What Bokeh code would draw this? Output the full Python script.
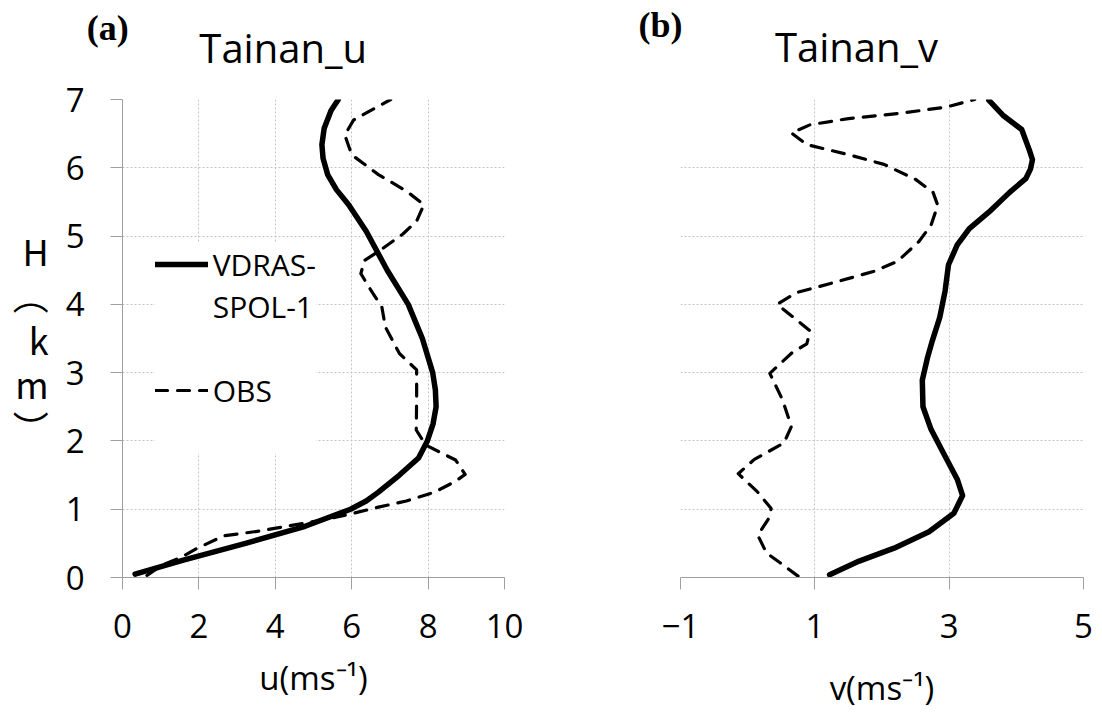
from bokeh.plotting import figure
from bokeh.models import FixedTicker, Label, Legend, LegendItem, ColumnDataSource, Range1d
from bokeh.layouts import row
from bokeh.embed import file_html
from bokeh.resources import INLINE

# ---------------- data ----------------
# Tainan_u : VDRAS-SPOL-1 (height km, u m/s)
z_vdras_u = [0.05, 0.25, 0.5, 0.75, 1.0, 1.12, 1.25, 1.5, 1.75, 2.0, 2.25, 2.5, 2.75, 3.0, 3.5, 4.0, 4.5,
             5.07, 5.46, 5.68, 5.90, 6.14, 6.34, 6.58, 6.84, 7.0]
u_vdras = [0.33, 1.57, 3.22, 4.78, 5.97, 6.38, 6.70, 7.25, 7.75, 7.98, 8.13, 8.21, 8.19, 8.12, 7.85, 7.48, 6.93,
           6.38, 5.92, 5.60, 5.37, 5.25, 5.22, 5.28, 5.46, 5.65]
# Tainan_u : OBS
z_obs_u = [0.03, 0.17, 0.30, 0.42, 0.61, 0.68, 0.85, 0.93, 1.03, 1.12, 1.25, 1.41, 1.51, 1.72, 1.94, 2.16,
           2.6, 3.04, 3.28, 3.67, 3.96, 4.2, 4.45, 4.64, 4.81, 5.03, 5.22, 5.46, 5.66, 5.9, 6.19, 6.48, 6.7, 7.0]
u_obs = [0.64, 1.0, 1.55, 1.93, 2.65, 3.58, 5.32, 5.96, 6.70, 7.43, 8.17, 8.72, 8.97, 8.72, 7.94, 7.69,
         7.70, 7.70, 7.25, 6.88, 6.79, 6.51, 6.24, 6.33, 6.79, 7.34, 7.70, 7.89, 7.43, 6.70, 6.00, 5.82, 6.05, 7.02]
# Tainan_v : VDRAS-SPOL-1
z_vdras_v = [0.04, 0.24, 0.43, 0.67, 0.94, 1.20, 1.44, 1.83, 2.17, 2.50, 2.89, 3.23, 3.47, 3.81, 4.20, 4.58,
             4.87, 5.11, 5.35, 5.64, 5.84, 5.98, 6.12, 6.27, 6.56, 6.77, 6.99]
v_vdras = [1.22, 1.66, 2.18, 2.70, 3.07, 3.20, 3.12, 2.91, 2.73, 2.61, 2.60, 2.68, 2.75, 2.86, 2.94, 2.99,
           3.12, 3.30, 3.59, 3.90, 4.14, 4.21, 4.24, 4.19, 4.08, 3.80, 3.59]
# Tainan_v : OBS
z_obs_v = [0.02, 0.19, 0.36, 0.62, 0.86, 1.01, 1.25, 1.52, 1.73, 1.97, 2.21, 2.60, 2.99, 3.30, 3.42, 3.61,
           3.78, 4.00, 4.17, 4.31, 4.48, 4.63, 4.92, 5.16, 5.45, 5.64, 5.83, 6.05, 6.19, 6.34, 6.51, 6.63,
           6.72, 6.80, 6.89, 7.00]
v_obs = [0.75, 0.52, 0.28, 0.15, 0.31, 0.35, 0.15, -0.14, 0.10, 0.54, 0.65, 0.52, 0.33, 0.67, 0.88, 0.93,
         0.72, 0.44, 0.72, 1.25, 1.87, 2.23, 2.55, 2.73, 2.83, 2.76, 2.50, 2.03, 1.51, 0.88, 0.65, 0.93,
         1.50, 2.29, 2.96, 3.38]

u_ticks = [0, 2, 4, 6, 8, 10]
v_ticks = [-1, 1, 3, 5]
z_ticks = [0, 1, 2, 3, 4, 5, 6, 7]

series_names = ["VDRAS-", "SPOL-1", "OBS"]
panel_titles = ["Tainan_u", "Tainan_v"]
panel_tags = ["(a)", "(b)"]
x_labels = ["u(ms\u207b\u00b9)", "v(ms\u207b\u00b9)"]
y_label = "H\n\ufe35\nk\nm\n\ufe36"

# ---------------- style ----------------
SANS = "Open Sans"
GRID = "#c4c4c4"
AXIS = "#a0a0a0"
DASH = "12 10"


def add_text(p, side, text, x, y, size, font=SANS, style="normal", align="center",
             baseline="alphabetic"):
    p.add_layout(Label(x=x, y=y, x_units="screen", y_units="screen", text=text,
                       text_font=font, text_font_size=size, text_font_style=style,
                       text_align=align, text_baseline=baseline, text_color="black"), side)


def style_fig(p, xticks, hide_y=False):
    p.outline_line_color = None
    p.background_fill_color = "white"
    p.border_fill_color = "white"
    p.xaxis.ticker = FixedTicker(ticks=xticks)
    p.yaxis.ticker = FixedTicker(ticks=z_ticks)
    p.xgrid.ticker = FixedTicker(ticks=xticks)
    p.ygrid.ticker = FixedTicker(ticks=z_ticks)
    for g in (p.xgrid, p.ygrid):
        g.grid_line_color = GRID
        g.grid_line_dash = "2 2"
        g.grid_line_width = 1
    for ax in (p.xaxis, p.yaxis):
        ax.axis_line_color = AXIS
        ax.major_tick_line_color = AXIS
        ax.minor_tick_line_color = None
        ax.major_tick_in = 0
        ax.major_tick_out = 12
        ax.major_label_text_font = SANS
        ax.major_label_text_font_size = "33px"
        ax.major_label_text_color = "black"
        ax.axis_label_text_font = SANS
        ax.axis_label_text_font_style = "normal"
        ax.axis_label_text_color = "black"
    p.xaxis.major_label_standoff = 24
    p.yaxis.major_label_standoff = 26
    p.xaxis.axis_label_text_font_size = "33px"
    if hide_y:
        p.yaxis.visible = False


# ---------------- panel (a) ----------------
p1 = figure(width=560, height=712, x_range=Range1d(0, 10), y_range=Range1d(0, 7),
            output_backend="svg", toolbar_location=None,
            min_border_left=122, min_border_right=56, min_border_top=98, min_border_bottom=133)
style_fig(p1, u_ticks)
p1.xaxis.axis_label = x_labels[0]
p1.xaxis.axis_label_standoff = 14
p1.yaxis.axis_label = y_label
p1.yaxis.axis_label_orientation = "horizontal"
p1.yaxis.axis_label_text_font = "Noto Sans CJK SC"
p1.yaxis.axis_label_text_font_size = "36px"
p1.yaxis.axis_label_text_line_height = 0.85
p1.yaxis.axis_label_standoff = 14

r1 = p1.line(u_vdras, z_vdras_u, line_color="black", line_width=5.5, line_cap="round", line_join="round")
r2 = p1.line(u_obs, z_obs_u, line_color="black", line_width=3.2, line_dash=DASH, line_cap="round",
             line_join="round")
blank_src = ColumnDataSource(data=dict(x=[], y=[]))
rb = p1.line("x", "y", source=blank_src, line_alpha=0)

legend = Legend(items=[LegendItem(label=series_names[0], renderers=[r1]),
                       LegendItem(label=series_names[1], renderers=[rb]),
                       LegendItem(label=" ", renderers=[rb]),
                       LegendItem(label=series_names[2], renderers=[r2]),
                       LegendItem(label=" ", renderers=[rb])],
                location=(32.7, 124), orientation="vertical",
                label_text_font=SANS, label_text_font_size="30px", label_text_color="black",
                glyph_width=53, glyph_height=42, label_height=42, label_standoff=5,
                spacing=0, padding=21, margin=0,
                border_line_color=None, background_fill_color="white", background_fill_alpha=1.0)
p1.add_layout(legend, "center")

# title above the frame
add_text(p1, "above", panel_titles[0], 160.7, 51.7, "40px")
# panel tag placed in the right border panel, moved over the top-left corner
add_text(p1, "right", panel_tags[0], -396.8, 549.4, "36px", font="Liberation Serif", style="bold")

# ---------------- panel (b) ----------------
p2 = figure(width=540, height=712, x_range=Range1d(-1, 5), y_range=Range1d(0, 7),
            output_backend="svg", toolbar_location=None,
            min_border_left=120, min_border_right=17, min_border_top=99, min_border_bottom=129)
style_fig(p2, v_ticks, hide_y=True)
p2.xaxis.axis_label = x_labels[1]
p2.xaxis.axis_label_standoff = 24

p2.line(v_vdras, z_vdras_v, line_color="black", line_width=5.5, line_cap="round", line_join="round")
p2.line(v_obs, z_obs_v, line_color="black", line_width=3.2, line_dash=DASH, line_cap="round",
        line_join="round")

add_text(p2, "above", panel_titles[1], 176, 53.3, "40px")
add_text(p2, "left", panel_tags[1], 24, 553, "36px", font="Liberation Serif", style="bold")

layout = row(p1, p2)
open("out.html", "w").write(file_html(layout, INLINE))
